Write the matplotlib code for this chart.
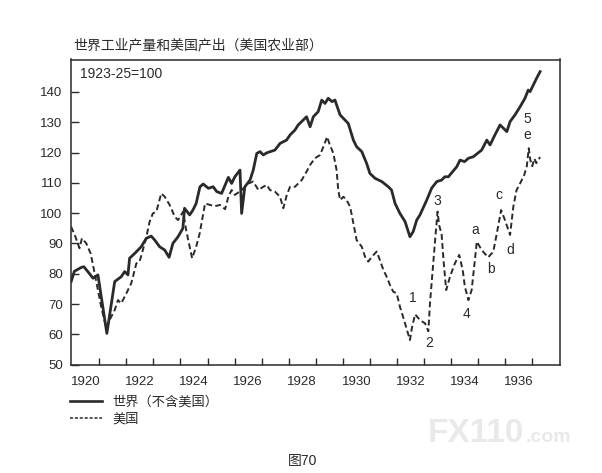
import matplotlib
matplotlib.use('Agg')
import matplotlib.pyplot as plt
from matplotlib.lines import Line2D

plt.rcParams['font.family'] = ['Liberation Sans', 'Noto Sans CJK SC', 'DejaVu Sans']

# ---- data ----
world_years = [1919.96, 1920.08, 1920.34, 1920.43, 1920.55, 1920.77, 1920.95, 1921.28, 1921.57, 1921.81,
               1921.94, 1922.06, 1922.12, 1922.31, 1922.43, 1922.55, 1922.74, 1922.92, 1923.05, 1923.23,
               1923.42, 1923.58, 1923.72, 1923.91, 1924.09, 1924.15, 1924.34, 1924.46, 1924.58, 1924.72,
               1924.84, 1925.03, 1925.21, 1925.34, 1925.52, 1925.77, 1925.89, 1926.01, 1926.20, 1926.26,
               1926.38, 1926.57, 1926.69, 1926.82, 1926.94, 1927.06, 1927.19, 1927.49, 1927.68, 1927.92,
               1928.05, 1928.23, 1928.35, 1928.66, 1928.79, 1928.91, 1929.09, 1929.22, 1929.34, 1929.46,
               1929.60, 1929.71, 1929.77, 1929.90, 1930.20, 1930.39, 1930.51, 1930.70, 1930.88, 1931.00,
               1931.19, 1931.44, 1931.68, 1931.80, 1931.93, 1932.11, 1932.30, 1932.48, 1932.60, 1932.73,
               1932.85, 1933.10, 1933.28, 1933.47, 1933.65, 1933.77, 1933.90, 1934.21, 1934.33, 1934.50,
               1934.64, 1934.82, 1935.13, 1935.32, 1935.44, 1935.62, 1935.81, 1936.06, 1936.18, 1936.36,
               1936.55, 1936.73, 1936.85, 1936.92, 1937.04, 1937.16, 1937.29]
world_values = [77.4, 80.8, 82.1, 82.3, 81.0, 78.5, 79.6, 60.3, 77.4, 79.0,
                80.7, 79.6, 85.1, 86.7, 87.8, 88.9, 91.7, 92.4, 91.1, 88.9,
                87.8, 85.4, 90.0, 92.2, 95.0, 101.6, 99.4, 101.0, 103.2, 108.7,
                109.6, 108.2, 108.7, 107.1, 106.5, 111.8, 109.8, 112.0, 114.2, 99.9,
                108.7, 110.9, 114.2, 119.7, 120.3, 119.2, 119.9, 120.8, 123.0, 124.1,
                125.8, 127.4, 129.1, 131.8, 128.5, 131.8, 133.5, 137.3, 136.2, 137.9,
                136.8, 137.3, 135.7, 132.4, 129.6, 124.1, 121.9, 120.3, 116.4, 113.1,
                111.5, 110.4, 108.7, 107.6, 103.2, 99.9, 97.2, 92.2, 93.9, 97.7,
                99.4, 104.3, 108.2, 110.4, 110.9, 112.0, 112.0, 115.3, 117.5, 117.0,
                118.1, 118.6, 120.8, 124.1, 122.5, 125.8, 129.1, 126.9, 130.2, 132.4,
                135.1, 137.9, 140.6, 140.1, 142.3, 144.5, 146.7]

us_years = [1919.96, 1920.11, 1920.27, 1920.36, 1920.52, 1920.68, 1920.83, 1921.07, 1921.26, 1921.38,
            1921.57, 1921.69, 1921.81, 1922.00, 1922.18, 1922.37, 1922.49, 1922.61, 1922.74, 1922.86,
            1922.98, 1923.11, 1923.29, 1923.42, 1923.60, 1923.79, 1923.91, 1924.10, 1924.21, 1924.43,
            1924.58, 1924.71, 1924.91, 1925.09, 1925.28, 1925.46, 1925.65, 1925.77, 1925.89, 1926.01,
            1926.26, 1926.51, 1926.69, 1926.88, 1927.06, 1927.19, 1927.31, 1927.49, 1927.68, 1927.80,
            1927.93, 1928.05, 1928.23, 1928.48, 1928.66, 1928.79, 1928.97, 1929.16, 1929.28, 1929.42,
            1929.50, 1929.65, 1929.77, 1929.83, 1929.90, 1930.02, 1930.14, 1930.27, 1930.39, 1930.51,
            1930.70, 1930.82, 1930.94, 1931.07, 1931.25, 1931.37, 1931.50, 1931.62, 1931.74, 1931.86,
            1931.99, 1932.11, 1932.30, 1932.48, 1932.55, 1932.67, 1932.85, 1933.04, 1933.16, 1933.22,
            1933.41, 1933.50, 1933.56, 1933.65, 1933.72, 1933.82, 1933.96, 1934.14, 1934.30, 1934.43,
            1934.51, 1934.64, 1934.76, 1934.88, 1934.95, 1935.13, 1935.37, 1935.56, 1935.69, 1935.85,
            1935.99, 1936.18, 1936.30, 1936.42, 1936.55, 1936.70, 1936.80, 1936.87, 1936.93, 1937.00,
            1937.08, 1937.15, 1937.29]
us_values = [95.5, 92.4, 88.4, 91.7, 90.0, 86.7, 80.1, 69.1, 62.0, 64.7,
             68.0, 71.3, 70.2, 73.5, 76.8, 83.4, 84.0, 87.8, 92.2, 97.2,
             99.9, 100.5, 106.5, 105.4, 102.7, 98.8, 97.7, 100.5, 94.4, 85.1,
             88.9, 93.3, 103.2, 102.7, 102.3, 102.7, 101.3, 105.4, 107.6, 106.0,
             107.6, 109.8, 110.4, 107.6, 108.7, 109.3, 107.6, 107.1, 105.4, 101.6,
             106.0, 108.7, 108.7, 110.9, 113.7, 115.9, 118.1, 119.2, 121.9, 125.2,
             123.0, 119.7, 114.2, 107.6, 104.3, 105.4, 104.3, 102.1, 96.6, 91.1,
             88.9, 85.6, 84.0, 85.6, 87.3, 84.5, 81.2, 79.0, 76.3, 74.1,
             73.5, 69.1, 63.6, 58.1, 62.0, 66.6, 64.7, 63.6, 61.0, 70.2,
             91.1, 100.5, 96.0, 93.0, 84.5, 74.6, 79.0, 83.4, 86.2, 81.2,
             75.7, 71.3, 74.6, 84.5, 90.6, 87.8, 85.4, 87.3, 93.3, 101.0,
             97.7, 92.8, 102.1, 107.6, 109.8, 112.5, 115.5, 121.4, 117.5, 115.5,
             118.0, 116.5, 118.5]

year_labels = ['1920', '1922', '1924', '1926', '1928', '1930', '1932', '1934', '1936']
y_ticks = [50, 60, 70, 80, 90, 100, 110, 120, 130, 140]
point_labels = ['1', '2', '3', '4', 'a', 'b', 'c', 'd', '5', 'e']
point_label_x = [1932.58, 1933.20, 1933.49, 1934.58, 1934.88, 1935.46, 1935.77, 1936.20, 1936.83, 1936.83]
point_label_y = [71.9, 57.0, 104.1, 66.7, 94.4, 81.5, 106.0, 87.8, 131.0, 125.8]

title = '世界工业产量和美国产出（美国农业部）'
base_note = '1923-25=100'
legend_labels = ['世界（不含美国）', '美国']
caption = '图70'

# ---- drawing ----
ink = '#2a2a2a'
fig = plt.figure(figsize=(6.02, 4.73), dpi=100)
ax = fig.add_axes([71 / 602, 1 - 364.6 / 473, (560 - 71) / 602, (364.6 - 59.5) / 473])

ax.plot(world_years, world_values, color=ink, lw=2.0, solid_joinstyle='round')
ax.plot(us_years, us_values, color=ink, lw=1.4, linestyle=(0, (3, 1.7)))

ax.set_xlim(1919.955, 1938.025)
ax.set_ylim(50, 150.7)

ax.set_yticks(y_ticks)
ax.set_yticklabels([str(v) for v in y_ticks])
ax.tick_params(axis='y', direction='in', length=6, width=1, pad=6, labelsize=9.5,
               colors=ink, labelcolor=ink)

label_pos = [int(s) + 0.5 for s in year_labels]
ax.set_xticks(label_pos)
ax.set_xticklabels(year_labels)
ax.set_xticks(list(range(1921, 1938)), minor=True)
ax.tick_params(axis='x', which='major', length=0, pad=8, labelsize=9.5, labelcolor=ink)
ax.tick_params(axis='x', which='minor', direction='in', length=5, width=1, color=ink)

for sp in ax.spines.values():
    sp.set_color(ink)
    sp.set_linewidth(1.1)

for s, x, y in zip(point_labels, point_label_x, point_label_y):
    ax.text(x, y, s, ha='center', va='center', fontsize=10, color=ink)

fig.text(73 / 602, 1 - 45 / 473, title, fontsize=10, va='center', ha='left', color=ink)
fig.text(80 / 602, 1 - 74 / 473, base_note, fontsize=10, va='center', ha='left', color=ink)

handles = [Line2D([], [], color=ink, lw=1.9),
           Line2D([], [], color=ink, lw=1.1, linestyle=(0, (2, 1.2)))]
leg = ax.legend(handles, legend_labels, loc='upper left',
                bbox_to_anchor=(70 / 602, 1 - 396 / 473), bbox_transform=fig.transFigure,
                frameon=False, fontsize=9.5, handlelength=2.4, handletextpad=0.8,
                labelspacing=0.35, borderpad=0, borderaxespad=0)
for t in leg.get_texts():
    t.set_color(ink)

fig.text(303 / 602, 1 - 461 / 473, caption, fontsize=10, ha='center', va='center', color=ink)

fig.text(428 / 602, 1 - 433 / 473, 'FX110', fontsize=24, fontweight='bold',
         color='#e9e9e9', ha='left', va='center')
fig.text(526 / 602, 1 - 437 / 473, '.com', fontsize=14, fontweight='bold',
         color='#e9e9e9', ha='left', va='center')

fig.savefig('out.png', dpi=100)
